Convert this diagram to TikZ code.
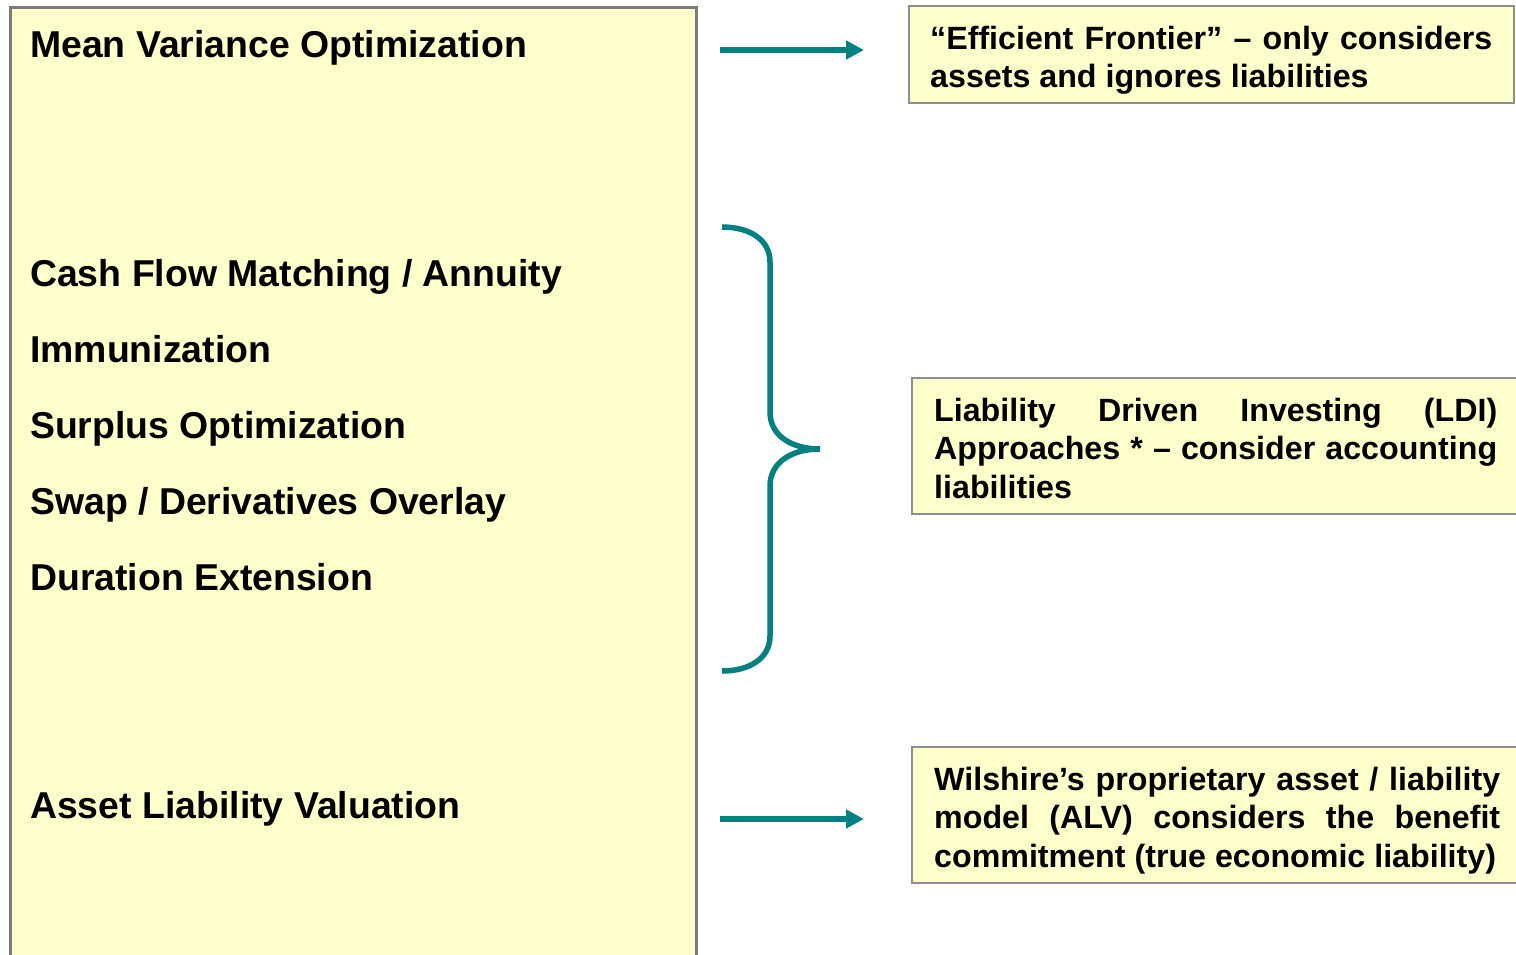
\documentclass[tikz,border=0pt]{standalone}
\usepackage{fontspec}
\setmainfont{Liberation Sans}
\usetikzlibrary{arrows.meta}
\definecolor{paper}{HTML}{FFFFCC}
\definecolor{teal}{HTML}{008080}
\definecolor{frame}{HTML}{7A7A7A}
\begin{document}
\begin{tikzpicture}[x=1pt,y=-1pt,
  item/.style={anchor=base west,inner sep=0pt,font=\fontsize{37.4}{44}\selectfont\bfseries},
  note/.style={anchor=north west,inner sep=0pt,text width=#1,align=justify,
    font=\fontsize{32.2}{38.5}\selectfont\bfseries},
  notebox/.style={draw=frame!85,line width=2pt,fill=paper},
  link/.style={draw=teal,line width=5.5pt,-{Triangle[length=18pt,width=18pt]}},
  bracket/.style={draw=teal,line width=5.5pt,line cap=round}]
\useasboundingbox (0,0) rectangle (1516,955);
\clip (0,0) rectangle (1516,955);

% main list panel (runs past the bottom edge)
\draw[frame,line width=3pt,fill=paper] (10,970) -- (10,8) -- (696,8) -- (696,970);

\node[item] (mvo) at (30,58) {Mean Variance Optimization};
\node[item] (cfm) at (30,286) {Cash Flow Matching / Annuity};
\node[item] (imm) at (30,362) {Immunization};
\node[item] (sur) at (30,438) {Surplus Optimization};
\node[item] (swp) at (30,514) {Swap / Derivatives Overlay};
\node[item] (dur) at (30,590) {Duration Extension};
\node[item] (alv) at (30,818) {Asset Liability Valuation};

% comment boxes
\path[notebox] (909,6) rectangle (1514,103);
\path[notebox] (912,378) rectangle (1530,514);
\path[notebox] (912,747) rectangle (1530,883);

\node[note=562pt] (ef) at (930,25.5)
  {“Efficient Frontier” – only considers\linebreak assets and ignores liabilities};
\node[note=563pt] (ldi) at (934,397.5)
  {Liability Driven Investing (LDI)\linebreak Approaches * – consider accounting\linebreak liabilities};
\node[note=566pt] (wil) at (934,766.5)
  {Wilshire’s proprietary asset / liability\linebreak model (ALV) considers the benefit\linebreak commitment (true economic liability)};

% arrows
\coordinate (a1s) at (720,50);
\coordinate (a1e) at (864,50);
\coordinate (a2s) at (720,819);
\coordinate (a2e) at (864,819);
\draw[link] (a1s) -- (a1e);
\draw[link] (a2s) -- (a2e);

% curly brace grouping the LDI approaches
\draw[bracket,line cap=butt] (722,227) .. controls (750,227) and (770,240) .. (770,262)
  -- (770,412) .. controls (770,436) and (792,449) .. (820,449)
  .. controls (792,449) and (770,462) .. (770,486)
  -- (770,636) .. controls (770,658) and (750,671) .. (722,671);
\end{tikzpicture}
\end{document}
